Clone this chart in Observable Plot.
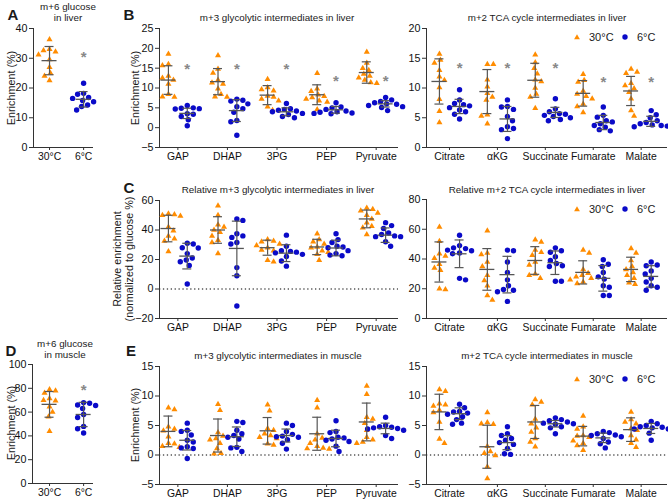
<!DOCTYPE html>
<html><head><meta charset="utf-8">
<script src="https://cdn.jsdelivr.net/npm/d3@7"></script>
<script src="https://cdn.jsdelivr.net/npm/@observablehq/plot@0.6"></script>
<style>
body{margin:0;background:#fff;}
#root{position:relative;width:668px;height:502px;overflow:hidden;font-family:"Liberation Sans",Arial,sans-serif;color:#1a1a1a;}
#root svg{position:absolute;overflow:visible;}
.abs{position:absolute;white-space:nowrap;}
.t{font-size:9.8px;transform:translate(-50%,-50%);text-align:center;line-height:10.5px;}
.L{font-size:15px;font-weight:bold;transform:translate(-50%,-50%);}
.yl{font-size:10.8px;transform:translate(-50%,-50%) rotate(-90deg);text-align:center;line-height:11.5px;}
.lg{font-size:11px;transform:translateY(-50%);}
</style></head><body><div id="root"></div><script>
// ---------- categories ----------
const glucoseGroups = ["30°C", "6°C"];
const glycoCats = ["GAP", "DHAP", "3PG", "PEP", "Pyruvate"];
const tcaCats = ["Citrate", "αKG", "Succinate", "Fumarate", "Malate"];
const COLOR_30 = "#ff8c00", COLOR_6 = "#0a0ac8";

// ---------- A: m+6 glucose in liver ----------
const liverGlc30 = [36.3, 33.0, 32.6, 32.2, 31.2, 29.6, 27.0, 25.0, 24.0, 22.5];
const liverGlc6 = [21.6, 18.2, 17.9, 16.8, 16.5, 15.8, 15.4, 14.3, 13.8, 12.6];
const liverGlcMean = [29.2, 16.2];
const liverGlcSD = [4.75, 2.6];
const liverGlcStar = [32];

// ---------- B left: m+3 glycolytic liver ----------
const liverGly30 = [
  [18.6, 16.0, 15.7, 13.0, 12.5, 12.0, 11.0, 8.4, 7.8, 7.7],
  [18.2, 14.8, 13.8, 12.0, 11.3, 11.0, 9.8, 8.4, 7.8, 7.7],
  [12.2, 10.1, 9.6, 9.3, 8.0, 7.7, 7.2, 6.8, 5.3, 4.4],
  [13.7, 9.8, 9.2, 8.3, 7.9, 7.6, 7.2, 6.8, 6.5, 4.6],
  [19.1, 16.3, 15.0, 14.5, 13.5, 13.0, 12.6, 12.0, 11.4, 11.2]];
const liverGly6 = [
  [5.6, 5.0, 4.9, 4.8, 4.7, 3.5, 3.4, 2.8, 2.0, 0.5],
  [7.2, 6.9, 6.7, 6.0, 5.3, 4.8, 3.9, 1.8, 1.5, -1.9],
  [6.1, 4.8, 4.6, 4.4, 4.2, 4.0, 3.6, 3.3, 2.8, 2.5],
  [6.3, 5.2, 5.0, 4.6, 4.2, 4.0, 3.9, 3.7, 3.6, 3.5],
  [7.6, 7.0, 6.6, 6.3, 6.0, 5.9, 5.6, 5.3, 5.1, 4.3]];
const liverGlyMean30 = [12.0, 11.6, 8.2, 8.3, 13.9];
const liverGlySD30 = [3.6, 3.3, 2.4, 2.5, 2.7];
const liverGlyMean6 = [3.6, 4.3, 4.0, 4.5, 6.0];
const liverGlySD6 = [1.3, 2.75, 1.0, 0.85, 0.8];
const liverGlyStars = [16, 16, 16, 13, 13];

// ---------- B right: m+2 TCA liver ----------
const liverTca30 = [
  [15.7, 14.7, 14.2, 13.0, 11.9, 11.3, 10.1, 8.1, 6.1, 4.2],
  [14.0, 14.0, 11.4, 10.2, 9.1, 8.5, 8.0, 5.5, 5.3, 4.0],
  [15.6, 14.3, 13.3, 12.4, 11.4, 11.1, 10.0, 9.0, 8.5, 6.6],
  [12.3, 11.3, 11.0, 9.5, 9.0, 8.6, 8.2, 7.3, 6.9, 5.9],
  [13.2, 12.7, 12.5, 10.8, 10.4, 9.9, 9.3, 8.2, 6.2, 5.3]];
const liverTca6 = [
  [9.7, 8.0, 7.4, 7.2, 7.0, 6.7, 6.3, 6.0, 5.6, 4.8],
  [8.0, 6.9, 6.8, 6.4, 5.2, 4.5, 3.5, 3.2, 3.0, 1.5],
  [8.2, 6.5, 6.0, 5.7, 5.6, 5.4, 5.2, 5.0, 4.7, 4.5],
  [6.8, 5.4, 5.1, 4.5, 4.3, 4.0, 3.7, 3.4, 3.0, 2.8],
  [6.2, 5.5, 5.0, 4.5, 4.2, 4.0, 3.8, 3.7, 3.6, 3.5]];
const liverTcaMean30 = [11.1, 9.4, 11.3, 9.1, 9.5];
const liverTcaSD30 = [3.8, 3.7, 2.85, 2.15, 2.45];
const liverTcaMean6 = [6.9, 4.8, 5.9, 4.2, 4.4];
const liverTcaSD6 = [1.2, 2.1, 0.85, 1.2, 0.85];
const liverTcaStars = [14.1, 14.1, 14.1, 11.9, 11.9];

// ---------- C left: relative m+3 glycolytic liver ----------
const relGly30 = [
  [51, 50.5, 50, 49.5, 42, 39.5, 36, 34, 32.5, 25.5],
  [56.5, 50, 43.5, 42, 40, 38.5, 36, 33, 31.5, 24],
  [33.5, 32.5, 32, 30.5, 29.5, 28, 26.5, 26, 19.5, 18.5],
  [37.5, 33.5, 32, 30.5, 28.5, 28, 26, 25, 23.5, 19.5],
  [55, 54, 53, 51.5, 50, 47.5, 45, 42.5, 41.5, 37]];
const relGly6 = [
  [31, 30.5, 28, 27.8, 24, 21, 19.7, 18.5, 16, 3.4],
  [47.5, 46.5, 37.5, 36, 35, 31.5, 30.5, 14.5, 9, -11.5],
  [36.5, 29, 26, 25.5, 25, 24.5, 23.5, 22, 19, 15.5],
  [37.5, 33.5, 31.5, 29, 28.5, 28, 26, 24, 23, 22.5],
  [45, 43, 41, 38, 37, 36, 35.5, 35.5, 32, 29]];
const relGlyMean30 = [41, 40, 28, 28.5, 47.5];
const relGlySD30 = [9, 9, 5.1, 5.2, 6];
const relGlyMean6 = [22.3, 27.5, 24.3, 27.8, 36.5];
const relGlySD6 = [8.7, 18.5, 5.7, 5.3, 4.9];

// ---------- C right: relative m+2 TCA liver ----------
const relTca30 = [
  [61.5, 52, 43.5, 42, 40.5, 36.5, 34, 32.5, 20, 19.5],
  [59, 44, 43, 38, 35, 29, 25.5, 22, 15.5, 12.5],
  [53, 51.5, 46, 44.5, 42.5, 38, 36, 30, 29, 27],
  [46, 44, 33, 30.5, 29, 28, 27, 26, 24.5, 23.5],
  [47, 44, 39, 35, 33, 31, 29, 27, 24, 23]];
const relTca6 = [
  [56, 49, 47.5, 47, 46, 45.5, 44, 43.5, 27, 26],
  [46, 45.5, 38, 31, 26, 22, 19.5, 19, 18, 11.5],
  [47.5, 45.5, 44.5, 41.5, 39, 37, 35.5, 35, 25, 25],
  [39.5, 36.5, 35, 31, 28, 26.5, 22, 21, 15.5, 15.5],
  [38, 36, 35.5, 32, 30, 27, 24.5, 22, 21, 19]];
const relTcaMean30 = [38, 33, 39, 31, 33];
const relTcaSD30 = [13.5, 14, 9.3, 7.8, 8.2];
const relTcaMean6 = [43.5, 29.5, 37.5, 27, 28.3];
const relTcaSD6 = [9.3, 12.3, 7.9, 8.6, 7.2];

// ---------- D: m+6 glucose in muscle ----------
const muscleGlc30 = [79, 78, 76, 71.5, 70, 69.5, 64.5, 60, 56, 44];
const muscleGlc6 = [68, 67.5, 66, 65.5, 63, 58, 55.5, 48, 46, 42.5];
const muscleGlcMean = [66.5, 58];
const muscleGlcSD = [10.8, 10.2];
const muscleGlcStar = [83];

// ---------- E left: m+3 glycolytic muscle ----------
const muscleGly30 = [
  [8.0, 7.7, 4.8, 4.4, 4.1, 3.1, 2.0, 1.9, 1.5, 1.3],
  [8.6, 7.6, 3.8, 3.2, 2.8, 2.6, 2.0, 1.1, 0.3, 0.2],
  [8.5, 7.5, 4.5, 4.2, 3.6, 3.3, 3.0, 2.8, 1.9, 1.7],
  [9.3, 8.0, 3.6, 2.9, 2.6, 2.0, 1.5, 1.2, 1.1, 1.0],
  [11.7, 10.3, 6.4, 6.1, 5.4, 4.2, 3.0, 2.6, 2.2, 2.0]];
const muscleGly6 = [
  [5.4, 4.2, 4.0, 3.4, 2.5, 2.2, 1.4, 1.2, 1.1, -0.6],
  [5.7, 5.5, 4.2, 3.6, 3.3, 3.0, 2.7, 1.3, 1.2, 0.6],
  [5.4, 5.0, 4.0, 3.5, 3.2, 3.1, 3.0, 2.6, 2.0, 1.0],
  [5.8, 4.0, 3.8, 3.0, 2.9, 2.7, 2.5, 2.3, 1.5, 0.6],
  [6.4, 5.0, 4.8, 4.7, 4.6, 4.5, 4.4, 4.2, 3.3, 2.8]];
const muscleGlyMean30 = [4.0, 3.3, 4.1, 3.6, 5.6];
const muscleGlySD30 = [2.6, 2.8, 2.25, 2.8, 3.2];
const muscleGlyMean6 = [2.5, 3.1, 3.3, 2.8, 4.5];
const muscleGlySD6 = [1.65, 1.65, 1.1, 1.4, 0.9];

// ---------- E right: m+2 TCA muscle ----------
const muscleTca30 = [
  [11.1, 10.8, 8.7, 8.5, 8.3, 7.6, 7.2, 5.6, 2.7, 2.0],
  [7.2, 5.5, 5.3, 5.2, 1.5, 0.6, 0.3, -0.1, -2.0, -4.0],
  [9.4, 9.0, 8.5, 6.1, 5.3, 4.6, 3.9, 2.8, 2.2, 1.4],
  [6.6, 4.8, 4.4, 3.3, 3.2, 3.0, 2.4, 2.0, 1.6, 0.8],
  [7.3, 6.0, 5.6, 5.3, 4.5, 4.2, 3.3, 2.6, 2.0, 1.3]];
const muscleTca6 = [
  [8.6, 8.0, 7.4, 7.3, 7.1, 6.9, 6.5, 6.0, 5.4, 5.2],
  [4.8, 3.6, 3.3, 2.8, 2.5, 2.1, 1.8, 1.1, 0.2, 0.1],
  [6.3, 6.0, 5.8, 5.6, 5.4, 5.3, 5.2, 4.8, 4.6, 3.6],
  [4.0, 3.8, 3.6, 3.4, 3.3, 3.1, 2.8, 2.2, 1.9, 1.2],
  [5.7, 5.3, 5.0, 4.8, 4.7, 4.6, 4.4, 4.4, 3.7, 2.5]];
const muscleTcaMean30 = [7.3, 1.4, 5.6, 3.2, 4.3];
const muscleTcaSD30 = [3.0, 3.65, 2.8, 1.65, 2.0];
const muscleTcaMean6 = [7.0, 2.1, 5.3, 2.9, 4.5];
const muscleTcaSD6 = [1.0, 1.2, 0.55, 0.8, 0.85];

// ---------- helpers ----------
const root = document.getElementById("root");
const FONT = '"Liberation Sans", Arial, sans-serif';

// beeswarm offsets (pixels) for one group of values
function swarm(vals, pxY) {
  const order = vals.slice().sort((a, b) => b - a);
  const placed = [];
  const D = 6.0;
  order.forEach((v, n) => {
    const py = v * pxY;
    let off = 0;
    const sgn = n % 2 ? 1 : -1;
    for (let k = 0; k < 80; k++) {
      const cand = k === 0 ? 0 : (k % 2 ? sgn : -sgn) * Math.ceil(k / 2);
      if (placed.every(p => (p.px - cand) ** 2 + (p.py - py) ** 2 >= D * D)) { off = cand; break; }
    }
    placed.push({px: off, py, v});
  });
  return placed;
}

function panel(cfg) {
  const {left, top, width, height, mL, mR, mT, mB, yDomain, yTicks, xDomain, cats, groups, stars, starPos, zero} = cfg;
  const pxX = (width - mL - mR) / (xDomain[1] - xDomain[0]);
  const pxY = (height - mT - mB) / (yDomain[1] - yDomain[0]);
  const tri = [], circ = [], bars = [];
  groups.forEach(g => {
    g.values.forEach((vals, i) => {
      const pos = g.pos[i];
      swarm(vals, pxY).forEach(p => (g.symbol === "triangle" ? tri : circ).push({x: pos + p.px / pxX, y: p.v}));
      bars.push({x: pos, m: g.means[i], s: g.sds[i]});
    });
  });
  const hwMean = 7.5 / pxX, hwCap = 4.5 / pxX;
  const marks = [];
  if (zero) marks.push(Plot.ruleY([0], {stroke: "#555", strokeDasharray: "1.3,2.6", strokeWidth: 1.3}));
  marks.push(
    Plot.ruleX([xDomain[0]], {stroke: "#333", strokeWidth: 1}),
    Plot.ruleY([yDomain[0]], {stroke: "#333", strokeWidth: 1}),
    Plot.axisY({ticks: yTicks, tickSize: 4, tickPadding: 2, fontSize: 10.7, label: null, stroke: "#333", fill: "#111"}),
    Plot.axisX({ticks: cats.map((_, i) => i), tickFormat: i => cats[Math.round(i)], tickSize: 3, tickPadding: 2.5, fontSize: 10.4, label: null, stroke: "#333", fill: "#111"}),
    Plot.dot(tri, {x: "x", y: "y", symbol: "triangle", r: 2.25, fill: COLOR_30, stroke: "none"}),
    Plot.dot(circ, {x: "x", y: "y", symbol: "circle", r: 2.7, fill: COLOR_6, stroke: "none"}),
    Plot.ruleX(bars, {x: "x", y1: d => d.m - d.s, y2: d => d.m + d.s, stroke: "#555", strokeWidth: 1.2}),
    Plot.ruleY(bars, {y: "m", x1: d => d.x - hwMean, x2: d => d.x + hwMean, stroke: "#555", strokeWidth: 1.3}),
    Plot.ruleY(bars, {y: d => d.m + d.s, x1: d => d.x - hwCap, x2: d => d.x + hwCap, stroke: "#555", strokeWidth: 1.2}),
    Plot.ruleY(bars, {y: d => d.m - d.s, x1: d => d.x - hwCap, x2: d => d.x + hwCap, stroke: "#555", strokeWidth: 1.2})
  );
  if (stars) {
    const sd = stars.map((v, i) => ({x: starPos[i], y: v}));
    marks.push(Plot.text(sd, {x: "x", y: "y", text: () => "*", fill: "#888", fontSize: 15, fontWeight: "bold", dy: 5}));
  }
  const svg = Plot.plot({
    width, height, marginLeft: mL, marginRight: mR, marginTop: mT, marginBottom: mB,
    x: {type: "linear", domain: xDomain},
    y: {domain: yDomain},
    style: {fontFamily: FONT, background: "transparent", overflow: "visible"},
    marks
  });
  svg.style.left = left + "px";
  svg.style.top = top + "px";
  root.appendChild(svg);
}

function txt(html, x, y, cls) {
  const d = document.createElement("div");
  d.className = "abs " + cls;
  d.style.left = x + "px";
  d.style.top = y + "px";
  d.innerHTML = html;
  root.appendChild(d);
}

function legend(y) {
  const mk = (x, shape) => {
    const s = document.createElementNS("http://www.w3.org/2000/svg", "svg");
    s.setAttribute("width", 8); s.setAttribute("height", 8);
    s.style.left = (x - 4) + "px"; s.style.top = (y - 4) + "px";
    s.innerHTML = shape;
    root.appendChild(s);
  };
  mk(577, `<path d="M4,1.2 L6.9,6.3 L1.1,6.3 Z" fill="${COLOR_30}"/>`);
  mk(625, `<circle cx="4" cy="4" r="2.7" fill="${COLOR_6}"/>`);
  txt(glucoseGroups[0], 589, y, "lg");
  txt(glucoseGroups[1], 637, y, "lg");
}

const off = 0.19, offR = 0.21;
const warmPos = (n, o) => d3.range(n).map(i => i - o);
const coldPos = (n, o) => d3.range(n).map(i => i + o);

// ---------- panels ----------
// A
panel({left: 0, top: 0, width: 100, height: 165, mL: 33, mR: 7, mT: 28, mB: 18,
  yDomain: [0, 40], yTicks: [0, 10, 20, 30, 40], xDomain: [-0.47, 1.29], cats: glucoseGroups,
  groups: [
    {symbol: "triangle", values: [liverGlc30], pos: [0], means: [liverGlcMean[0]], sds: [liverGlcSD[0]]},
    {symbol: "circle", values: [liverGlc6], pos: [1], means: [liverGlcMean[1]], sds: [liverGlcSD[1]]}],
  stars: liverGlcStar, starPos: [1]});
// B left
panel({left: 120, top: 0, width: 280, height: 165, mL: 39, mR: 2, mT: 28, mB: 18,
  yDomain: [-5, 25], yTicks: [-5, 0, 5, 10, 15, 20, 25], xDomain: [-0.37, 4.45], cats: glycoCats,
  groups: [
    {symbol: "triangle", values: liverGly30, pos: warmPos(5, off), means: liverGlyMean30, sds: liverGlySD30},
    {symbol: "circle", values: liverGly6, pos: coldPos(5, off), means: liverGlyMean6, sds: liverGlySD6}],
  stars: liverGlyStars, starPos: coldPos(5, off)});
// B right
panel({left: 390, top: 0, width: 278, height: 165, mL: 36, mR: 1, mT: 28, mB: 18,
  yDomain: [0, 20], yTicks: [0, 5, 10, 15, 20], xDomain: [-0.48, 4.55], cats: tcaCats,
  groups: [
    {symbol: "triangle", values: liverTca30, pos: warmPos(5, offR), means: liverTcaMean30, sds: liverTcaSD30},
    {symbol: "circle", values: liverTca6, pos: coldPos(5, offR), means: liverTcaMean6, sds: liverTcaSD6}],
  stars: liverTcaStars, starPos: coldPos(5, offR)});
// C left
panel({left: 120, top: 160, width: 280, height: 176, mL: 39, mR: 2, mT: 40, mB: 18,
  yDomain: [-20, 60], yTicks: [-20, 0, 20, 40, 60], xDomain: [-0.37, 4.45], cats: glycoCats, zero: true,
  groups: [
    {symbol: "triangle", values: relGly30, pos: warmPos(5, off), means: relGlyMean30, sds: relGlySD30},
    {symbol: "circle", values: relGly6, pos: coldPos(5, off), means: relGlyMean6, sds: relGlySD6}]});
// C right
panel({left: 390, top: 160, width: 278, height: 176, mL: 36, mR: 1, mT: 39, mB: 18,
  yDomain: [0, 80], yTicks: [0, 20, 40, 60, 80], xDomain: [-0.48, 4.55], cats: tcaCats,
  groups: [
    {symbol: "triangle", values: relTca30, pos: warmPos(5, offR), means: relTcaMean30, sds: relTcaSD30},
    {symbol: "circle", values: relTca6, pos: coldPos(5, offR), means: relTcaMean6, sds: relTcaSD6}]});
// D
panel({left: 0, top: 320, width: 100, height: 182, mL: 32, mR: 7, mT: 44, mB: 19,
  yDomain: [0, 100], yTicks: [0, 20, 40, 60, 80, 100], xDomain: [-0.5, 1.29], cats: glucoseGroups,
  groups: [
    {symbol: "triangle", values: [muscleGlc30], pos: [0], means: [muscleGlcMean[0]], sds: [muscleGlcSD[0]]},
    {symbol: "circle", values: [muscleGlc6], pos: [1], means: [muscleGlcMean[1]], sds: [muscleGlcSD[1]]}],
  stars: muscleGlcStar, starPos: [1]});
// E left
panel({left: 120, top: 320, width: 280, height: 182, mL: 39, mR: 2, mT: 46, mB: 18,
  yDomain: [-5, 15], yTicks: [-5, 0, 5, 10, 15], xDomain: [-0.37, 4.45], cats: glycoCats, zero: true,
  groups: [
    {symbol: "triangle", values: muscleGly30, pos: warmPos(5, off), means: muscleGlyMean30, sds: muscleGlySD30},
    {symbol: "circle", values: muscleGly6, pos: coldPos(5, off), means: muscleGlyMean6, sds: muscleGlySD6}]});
// E right
panel({left: 390, top: 320, width: 278, height: 182, mL: 36, mR: 1, mT: 46, mB: 18,
  yDomain: [-5, 15], yTicks: [-5, 0, 5, 10, 15], xDomain: [-0.48, 4.55], cats: tcaCats, zero: true,
  groups: [
    {symbol: "triangle", values: muscleTca30, pos: warmPos(5, offR), means: muscleTcaMean30, sds: muscleTcaSD30},
    {symbol: "circle", values: muscleTca6, pos: coldPos(5, offR), means: muscleTcaMean6, sds: muscleTcaSD6}]});

// ---------- texts ----------
txt("A", 13, 14, "L"); txt("B", 129, 14, "L"); txt("C", 129, 187, "L");
txt("D", 11, 350, "L"); txt("E", 131, 350, "L");
txt("m+6 glucose<br>in liver", 68, 12, "t");
txt("m+3 glycolytic intermediates in liver", 277, 18, "t");
txt("m+2 TCA cycle intermediates in liver", 547, 18, "t");
txt("Relative m+3 glycolytic intermediates in liver", 278, 190, "t");
txt("Relative m+2 TCA cycle intermediates in liver", 547, 190, "t");
txt("m+6 glucose<br>in muscle", 65, 349, "t");
txt("m+3 glycolytic intermediates in muscle", 278, 356, "t");
txt("m+2 TCA cycle intermediates in muscle", 547, 356, "t");
txt("Enrichment (%)", 12, 88, "yl");
txt("Enrichment (%)", 136, 88, "yl");
txt("Relative enrichment<br>(normalized to glucose %)", 123, 259, "yl");
txt("Enrichment (%)", 12, 423, "yl");
txt("Enrichment (%)", 136, 425, "yl");
legend(37); legend(209); legend(379);
</script></body></html>
